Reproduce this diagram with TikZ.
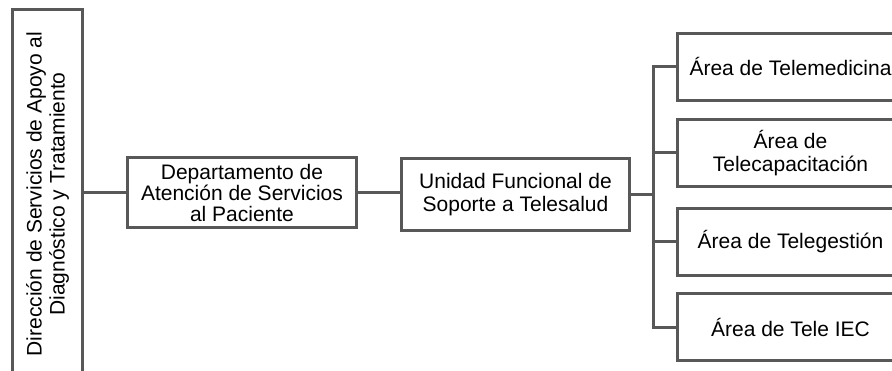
\documentclass[tikz,border=0pt]{standalone}
\usepackage{fontspec}
\setmainfont{Liberation Sans}
\usepackage{tikz}
\usetikzlibrary{positioning}

\definecolor{boxgray}{RGB}{88,88,88}

\begin{document}
\begin{tikzpicture}[x=1pt,y=-1pt]
\clip (0,0) rectangle (892,371);

\tikzstyle{every path}=[line width=3pt,draw=boxgray]
\tikzstyle{unitbox}=[draw=boxgray,line width=3pt,fill=white,align=center,
  inner sep=0pt,font=\fontsize{21}{23}\selectfont]
\tikzstyle{areabox}=[unitbox,minimum width=226pt,minimum height=67pt]

%% Direction box, text turned upright
\node [unitbox,rotate=90,minimum width=368pt,minimum height=70pt] (dir)
  at (47.5,194) {Dirección de Servicios de Apoyo al\\Diagnóstico y Tratamiento};

%% Department and unit
\node [unitbox,minimum width=229pt,minimum height=70pt,
  font=\fontsize{21}{21}\selectfont] (dept) at (242,193)
  {Departamento de\\Atención de Servicios\\al Paciente};
\node [unitbox,minimum width=228pt,minimum height=72pt] (unit) at (515.5,194.5)
  {Unidad Funcional de\\Soporte a Telesalud};

%% Areas
\node [areabox] (med) at (790.5,67) {Área de Telemedicina};
\node [areabox] (cap) at (790.5,153) {Área de\\Telecapacitación};
\node [areabox] (ges) at (790.5,242) {Área de Telegestión};
\node [areabox] (iec) at (790.5,327.5) {Área de Tele IEC};

%% Connections
\coordinate (bus) at (653,195);
\draw (dir.south |- dept.west) -- (dept.west);
\draw (dept.east) -- (dept.east -| unit.west);
\draw (unit.east |- bus) -- (bus);
\foreach \a in {med,cap,ges,iec}
    \draw (\a.west) -| (bus);

\end{tikzpicture}
\end{document}
